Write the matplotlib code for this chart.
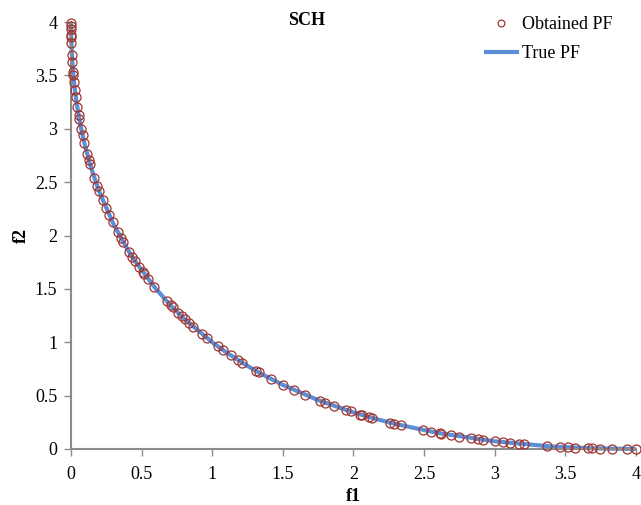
import matplotlib
matplotlib.use("Agg")
import matplotlib.pyplot as plt

plt.rcParams['font.family'] = ['Liberation Serif', 'DejaVu Serif']

# Obtained Pareto front
obtained_f1 = [0.0000, 0.0001, 0.0003, 0.0009, 0.0012, 0.0026, 0.0063, 0.0090,
               0.0147, 0.0167, 0.0211, 0.0279, 0.0336, 0.0446, 0.0533, 0.0587,
               0.0718, 0.0814, 0.0935, 0.1147, 0.1252, 0.1339,
               0.165, 0.186, 0.198, 0.224, 0.248, 0.271, 0.295, 0.331, 0.352,
               0.370, 0.411, 0.434, 0.453, 0.484, 0.508, 0.519, 0.547, 0.588,
               0.677, 0.706, 0.720, 0.760, 0.784, 0.807, 0.837, 0.866, 0.925,
               0.961, 1.04, 1.08, 1.13, 1.18, 1.21, 1.31, 1.33, 1.42, 1.50,
               1.58, 1.66, 1.76, 1.80, 1.86, 1.95, 1.98, 2.05, 2.06, 2.11,
               2.13, 2.26, 2.29, 2.34, 2.49, 2.55, 2.61, 2.62, 2.69, 2.75,
               2.83, 2.88, 2.92, 3.00, 3.06, 3.11, 3.17, 3.21, 3.37, 3.46,
               3.52, 3.57, 3.66, 3.69, 3.75, 3.83, 3.94, 4.00]
obtained_f2 = [3.99, 3.96, 3.93, 3.88, 3.86, 3.80, 3.69, 3.63,
               3.53, 3.50, 3.44, 3.36, 3.30, 3.20, 3.13, 3.09,
               3.00, 2.94, 2.87, 2.76, 2.71, 2.67,
               2.540, 2.461, 2.418, 2.331, 2.256, 2.189, 2.123, 2.030, 1.979,
               1.937, 1.847, 1.799, 1.761, 1.701, 1.657, 1.637, 1.589, 1.521,
               1.386, 1.345, 1.326, 1.273, 1.242, 1.214, 1.177, 1.144, 1.078,
               1.040, 0.961, 0.923, 0.878, 0.835, 0.810, 0.732, 0.717, 0.654, 0.601,
               0.552, 0.506, 0.453, 0.433, 0.405, 0.364, 0.352, 0.323, 0.319, 0.300,
               0.292, 0.247, 0.237, 0.221, 0.178, 0.162, 0.148, 0.145, 0.130, 0.117,
               0.101, 0.092, 0.085, 0.072, 0.063, 0.056, 0.048, 0.043, 0.027, 0.020,
               0.015, 0.012, 0.008, 0.006, 0.004, 0.002, 0.0002, 0.0]

# True Pareto front
true_f1 = [0.0, 0.001, 0.005, 0.01, 0.02, 0.03, 0.05, 0.07, 0.1, 0.15, 0.2,
           0.3, 0.4, 0.45, 0.6, 0.7, 0.8, 1.0, 1.1, 1.25, 1.35, 1.5, 1.75,
           2.0, 2.15, 2.3, 2.6, 3.0, 3.4, 3.7, 4.0]
true_f2 = [4.0, 3.875, 3.722, 3.61, 3.454, 3.337, 3.156, 3.012, 2.835, 2.601,
           2.411, 2.109, 1.870, 1.767, 1.502, 1.353, 1.222, 1.0, 0.905, 0.778,
           0.702, 0.601, 0.458, 0.343, 0.285, 0.234, 0.150, 0.072, 0.024,
           0.006, 0.0]

ticks = [0, 0.5, 1, 1.5, 2, 2.5, 3, 3.5, 4]
tick_labels = ['0', '0.5', '1', '1.5', '2', '2.5', '3', '3.5', '4']

fig = plt.figure(figsize=(6.41, 5.05), dpi=100)
ax = fig.add_axes([0.1108, 0.1109, 0.881, 0.8455])

ax.plot(obtained_f1, obtained_f2, linestyle='none', marker='o', markersize=6.5,
        markerfacecolor='none', markeredgecolor='#9e3430', markeredgewidth=0.9,
        label='Obtained PF', clip_on=False, zorder=3)
ax.plot(true_f1, true_f2, color='#5b8fd8', linewidth=3.0, label='True PF',
        clip_on=False, zorder=2, solid_capstyle='butt')

ax.set_xlim(0, 4)
ax.set_ylim(0, 4)
ax.set_xticks(ticks)
ax.set_xticklabels(tick_labels)
ax.set_yticks(ticks)
ax.set_yticklabels(tick_labels)

for side in ['top', 'right']:
    ax.spines[side].set_visible(False)
for side in ['left', 'bottom']:
    ax.spines[side].set_color('#8c8c8c')
    ax.spines[side].set_linewidth(1.5)
ax.tick_params(axis='y', direction='out', length=5, width=1, color='#8c8c8c',
               labelsize=13, pad=5)
ax.tick_params(axis='x', direction='out', length=5, width=1, color='#8c8c8c',
               labelsize=13, pad=7)

ax.set_title('SCH', fontsize=13, fontweight='bold', pad=0, x=0.417, y=0.992)
ax.set_xlabel('f1', fontsize=13, fontweight='bold', labelpad=4)
ax.set_ylabel('f2', fontsize=13, fontweight='bold')
ax.yaxis.set_label_coords(-0.073, 0.5)

leg = ax.legend(loc='upper right', bbox_to_anchor=(0.988, 1.052), frameon=False,
                fontsize=13, handlelength=1.9, handletextpad=0.2,
                labelspacing=0.66, markerscale=0.75)

fig.savefig('out.png', dpi=100)
